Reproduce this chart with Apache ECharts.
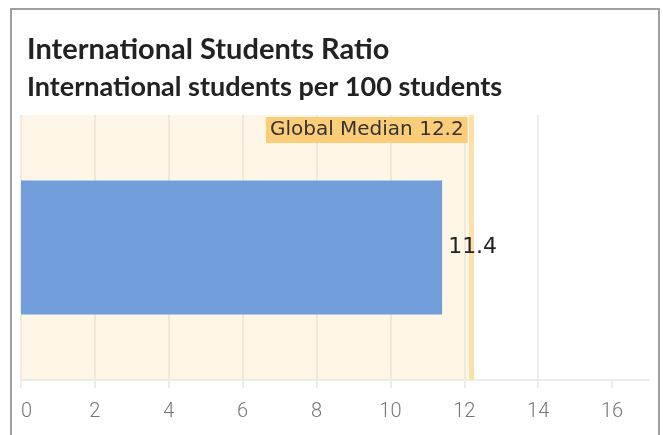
<!DOCTYPE html>
<html>
<head>
<meta charset="utf-8">
<script src="https://cdn.jsdelivr.net/npm/echarts@6/dist/echarts.min.js"></script>
<style>
  html, body { margin: 0; padding: 0; background: #fff; }
  #chart { width: 663px; height: 435px; }
  #frame {
    position: absolute; left: 10px; top: 8px; width: 646px; height: 440px;
    border: 2px solid #a0a0a0; pointer-events: none;
  }
</style>
</head>
<body>
<div id="chart"></div>
<div id="frame"></div>
<script>
// chart data
var categories = ['International Students Ratio'];
var studentsRatio = [11.4];
var globalMedian = 12.2;
var tickValues = [0, 2, 4, 6, 8, 10, 12, 14, 16];
var axisMax = 17;

var chart = echarts.init(document.getElementById('chart'));

var option = {
    animation: false,
    title: {
        text: 'International Students Ratio',
        subtext: 'International students per 100 students',
        left: 22,
        top: 30,
        itemGap: 10,
        textStyle: {
            fontFamily: 'Lato',
            fontWeight: 'bold',
            fontSize: 29,
            color: '#222'
        },
        subtextStyle: {
            fontFamily: 'Lato',
            fontWeight: 'bold',
            fontSize: 27,
            color: '#222'
        }
    },
    grid: {
        left: 21,
        right: 14,
        top: 115,
        bottom: 55,
        containLabel: false
    },
    xAxis: {
        type: 'value',
        min: 0,
        max: axisMax,
        interval: 2,
        axisLine: { show: true, lineStyle: { color: '#ececec', width: 2 } },
        axisTick: {
            show: true,
            length: 8,
            customValues: tickValues,
            lineStyle: { color: '#ececec', width: 2 }
        },
        axisLabel: {
            customValues: tickValues,
            alignMinLabel: 'left',
            margin: 22,
            fontFamily: 'Roboto',
            fontWeight: 300,
            fontSize: 20,
            color: '#777'
        },
        splitLine: {
            show: true,
            showMaxLine: false,
            lineStyle: { color: '#ececec', width: 2 }
        }
    },
    yAxis: {
        type: 'category',
        data: categories,
        show: false
    },
    series: [
        {
            type: 'bar',
            data: studentsRatio,
            barWidth: 134,
            itemStyle: { color: '#729fdb' },
            label: {
                show: true,
                position: 'right',
                distance: 6,
                fontFamily: 'DejaVu Sans',
                fontSize: 22,
                color: '#222'
            },
            markArea: {
                silent: true,
                z: 1,
                itemStyle: { color: 'rgba(250, 220, 160, 0.25)' },
                label: {
                    show: true,
                    position: 'insideTopRight',
                    distance: 2,
                    offset: [-2, 0],
                    formatter: 'Global Median ' + globalMedian,
                    backgroundColor: '#fbcd78',
                    padding: [3, 4, 3, 4],
                    fontFamily: 'DejaVu Sans',
                    fontSize: 20,
                    color: '#333'
                },
                data: [[{ xAxis: 0 }, { xAxis: globalMedian }]]
            },
            markLine: {
                silent: true,
                z: 1.5,
                symbol: 'none',
                label: { show: false },
                lineStyle: { color: '#fde0a6', width: 5, type: 'solid' },
                data: [{ xAxis: globalMedian }]
            }
        }
    ]
};

chart.setOption(option);
</script>
</body>
</html>
